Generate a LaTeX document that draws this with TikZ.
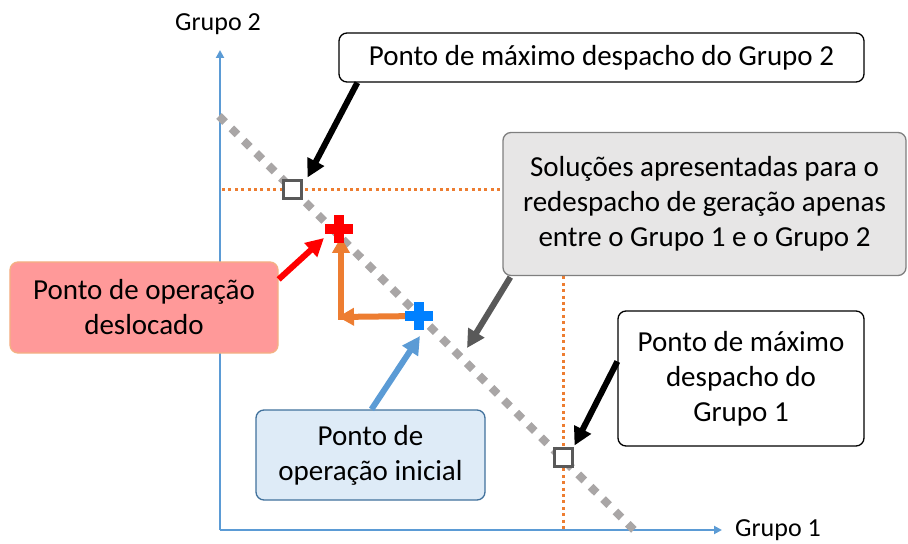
\documentclass[tikz,border=0pt]{standalone}
\usepackage{fontspec}
\setmainfont{Carlito}
\usetikzlibrary{arrows.meta,calc}
\definecolor{axisblue}{HTML}{5B9BD5}
\definecolor{orng}{HTML}{ED7D31}
\definecolor{dgray}{HTML}{595959}
\definecolor{lgray}{HTML}{A9A6A6}
\definecolor{pinkfill}{HTML}{FF9999}
\definecolor{pinkedge}{HTML}{F4B183}
\definecolor{bluefill}{HTML}{DEEBF7}
\definecolor{blueedge}{HTML}{41719C}
\definecolor{grayfill}{HTML}{E7E6E6}
\definecolor{grayedge}{HTML}{7F7F7F}
\definecolor{plusblue}{HTML}{0080FF}
\definecolor{plusred}{HTML}{FF0000}
\begin{document}
\begin{tikzpicture}[x=1bp,y=-1bp,
  box/.style={draw, rounded corners=8bp, line width=1.3bp, align=center, inner sep=0pt,
    font=\fontsize{29bp}{35bp}\selectfont},
  axlabel/.style={font=\fontsize{26bp}{30bp}\selectfont, inner sep=0pt},
  axisline/.style={axisblue, line width=2bp, -{Triangle[length=8bp,width=8bp]}},
  guide/.style={orng, line width=3bp, dash pattern=on 3bp off 3.4bp},
  ptsq/.style={draw=dgray, line width=3bp, fill=white, minimum size=18bp, inner sep=0pt},
  callout/.style={line width=6bp, -{Triangle[length=18bp,width=18bp]}},
  movearrow/.style={orng, line width=6bp, -{Triangle[length=16bp,width=17bp]}},
  plusmark/.style={inner sep=0pt, minimum size=28bp},
]
\useasboundingbox (0,0) rectangle (908,544);
% axes
\coordinate (O) at (220,530);
\coordinate (Ytip) at (220,50);
\coordinate (Xtip) at (722,530);
\draw[axisline] (O) -- (Ytip);
\draw[axisline] (O) -- (Xtip);
\node[axlabel] (g2) at (218,24) {Grupo 2};
\node[axlabel] (g1) at (778,530) {Grupo 1};
% guide lines
\coordinate (hg0) at (222,190);
\coordinate (hg1) at (505,190);
\coordinate (vg0) at (563,270);
\coordinate (vg1) at (563,530);
\draw[guide] (hg0) -- (hg1);
\draw[guide] (vg0) -- (vg1);
% diagonal
\coordinate (d0) at (219,116);
\coordinate (d1) at (636,532);
\draw[lgray, line width=8bp, dash pattern=on 8.5bp off 9bp] (d0) -- (d1);
% max points
\node[ptsq] (sq2) at (292,190) {};
\node[ptsq] (sq1) at (563,457) {};
% operating points
\node[plusmark] (rp) at (339,229) {};
\node[plusmark] (bp) at (419,316) {};
\coordinate (corner) at (341,317);
\coordinate (cornerh) at (338,317);
\coordinate (rptip) at (341,237);
\draw[movearrow] (bp.center) -- (cornerh);
\draw[movearrow] ($(corner)+(0,3)$) -- (rptip);
\fill[plusred] ($(rp.center)+(-14,-5)$) rectangle ($(rp.center)+(14,5)$);
\fill[plusred] ($(rp.center)+(-5,-14)$) rectangle ($(rp.center)+(5,14)$);
\fill[plusblue] ($(bp.center)+(-14,-5)$) rectangle ($(bp.center)+(14,5)$);
\fill[plusblue] ($(bp.center)+(-5,-14)$) rectangle ($(bp.center)+(5,14)$);
% boxes
\node[box, fill=white, minimum width=525bp, minimum height=49bp] (topbox) at (601.5,57.5)
  {Ponto de máximo despacho do Grupo 2};
\node[box, fill=grayfill, draw=grayedge, minimum width=403bp, minimum height=143bp] (graybox) at (704.5,204)
  {Soluções apresentadas para o\\redespacho de geração apenas\\entre o Grupo 1 e o Grupo 2};
\node[box, fill=white, minimum width=246bp, minimum height=135bp] (rbox) at (741,378.5)
  {Ponto de máximo\\despacho do\\Grupo 1};
\node[box, fill=pinkfill, draw=pinkedge, minimum width=268bp, minimum height=91bp] (pinkbox) at (144,307.5)
  {Ponto de operação\\deslocado};
\node[box, fill=bluefill, draw=blueedge, minimum width=229bp, minimum height=90bp] (bluebox) at (370.5,455)
  {Ponto de\\operação inicial};
% callouts
\coordinate (solpt) at (467,348);
\draw[callout, black] ($(topbox.south west)+(19,0)$) -- ($(sq2.north east)+(5,-2)$);
\draw[callout, black] ($(rbox.west)+(0,-17)$) -- ($(sq1.north east)+(1,-1)$);
\draw[callout, dgray] ($(graybox.south west)+(8,1)$) -- (solpt);
\draw[callout, plusred] ($(pinkbox.north east)+(0,18)$) -- ($(rp.center)+(-15,9)$);
\draw[callout, axisblue] ($(bluebox.north)+(1,0)$) -- ($(bp.center)+(1,20)$);
\end{tikzpicture}
\end{document}
